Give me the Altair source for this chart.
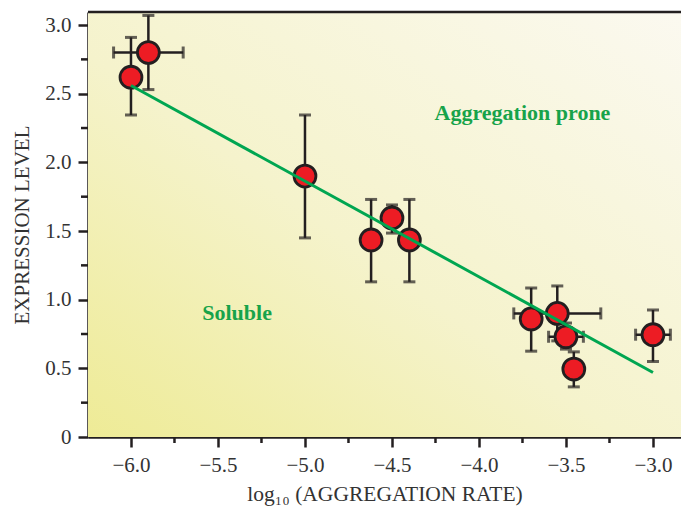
import altair as alt
import pandas as pd

# ---- data ----
log_rate = [-6.0, -5.9, -5.0, -4.62, -4.5, -4.4, -3.7, -3.55, -3.5, -3.455, -3.0]
expr_level = [2.62, 2.80, 1.90, 1.435, 1.595, 1.435, 0.86, 0.90, 0.73, 0.495, 0.745]
y_low = [2.345, 2.53, 1.45, 1.13, 1.485, 1.13, 0.625, 0.70, 0.64, 0.365, 0.55]
y_high = [2.91, 3.07, 2.345, 1.73, 1.69, 1.73, 1.085, 1.10, 0.83, 0.62, 0.925]
x_low = [-6.0, -6.10, -5.0, -4.62, -4.5, -4.4, -3.7, -3.80, -3.60, -3.455, -3.10]
x_high = [-6.0, -5.70, -5.0, -4.62, -4.5, -4.4, -3.7, -3.30, -3.40, -3.455, -2.90]

fit_x = [-6.0, -3.0]
fit_y = [2.56, 0.47]

x_ticks = [-6.0, -5.5, -5.0, -4.5, -4.0, -3.5, -3.0]
x_minor = [-5.75, -5.25, -4.75, -4.25, -3.75, -3.25]
y_ticks = [0, 0.5, 1.0, 1.5, 2.0, 2.5, 3.0]
y_minor = [0.25, 0.75, 1.25, 1.75, 2.25, 2.75]

labels = ["Aggregation prone", "Soluble"]
label_x = [-3.75, -5.39]
label_y = [2.36, 0.90]

X_TITLE = "log₁₀ (AGGREGATION RATE)"
Y_TITLE = "EXPRESSION LEVEL"

W, H = 593, 425
X_DOM = [-6.247, -2.839]
Y_DOM = [0, 3.095]
INK = "#231f20"
SERIF = "Liberation Serif"

df = pd.DataFrame({"x": log_rate, "y": expr_level, "ylo": y_low, "yhi": y_high,
                   "xlo": x_low, "xhi": x_high})
df["has_xerr"] = df["xlo"] != df["xhi"]
vcaps = pd.concat([df[["x"]].assign(y=df["ylo"]), df[["x"]].assign(y=df["yhi"])])
hcaps_src = df[df["has_xerr"]]
hcaps = pd.concat([hcaps_src[["y"]].assign(x=hcaps_src["xlo"]),
                   hcaps_src[["y"]].assign(x=hcaps_src["xhi"])])
fit = pd.DataFrame({"x": fit_x, "y": fit_y})
txt = pd.DataFrame({"label": labels, "x": label_x, "y": label_y})
one = pd.DataFrame({"a": [0]})

xs = alt.Scale(domain=X_DOM, nice=False, zero=False)
ys = alt.Scale(domain=Y_DOM, nice=False, zero=False)


def X(field, **kw):
    return alt.X(field, scale=xs, title=X_TITLE, **kw)


def Y(field, **kw):
    return alt.Y(field, scale=ys, title=Y_TITLE, **kw)


gradient = alt.LinearGradient(
    gradient="linear", x1=0, y1=1, x2=1, y2=0,
    stops=[alt.GradientStop(offset=0, color="#eeeb96"),
           alt.GradientStop(offset=0.45, color="#f5f3cc"),
           alt.GradientStop(offset=1, color="#fbf9f0")])

bg = alt.Chart(one).mark_rect(fill=gradient).encode(
    x=alt.value(0), x2=alt.value("width"), y=alt.value(0), y2=alt.value("height"))

top_border = alt.Chart(one).mark_rule(color=INK, strokeWidth=2.5).encode(
    x=alt.value(0), x2=alt.value("width"), y=alt.value(0))

xminor = alt.Chart(pd.DataFrame({"v": x_minor})).mark_rule(
    color=INK, strokeWidth=2.5, clip=False).encode(
    x=X("v:Q"), y=alt.value(H), y2=alt.value(H + 6))
yminor = alt.Chart(pd.DataFrame({"v": y_minor})).mark_rule(
    color=INK, strokeWidth=2.5, clip=False).encode(
    y=Y("v:Q"), x=alt.value(-7), x2=alt.value(0))

vbars = alt.Chart(df).mark_rule(color=INK, strokeWidth=2.5).encode(
    x=X("x:Q"), y=Y("ylo:Q"), y2="yhi:Q")
hbars = alt.Chart(df).transform_filter("datum.has_xerr").mark_rule(
    color=INK, strokeWidth=2.5).encode(
    y=Y("y:Q"), x=X("xlo:Q"), x2="xhi:Q")
vcap = alt.Chart(vcaps).mark_tick(color=INK, orient="horizontal", size=12,
                                  thickness=3).encode(x=X("x:Q"), y=Y("y:Q"))
hcap = alt.Chart(hcaps).mark_tick(color=INK, orient="vertical", size=12,
                                  thickness=3).encode(x=X("x:Q"), y=Y("y:Q"))

points = alt.Chart(df).mark_point(
    shape="circle", filled=True, fill="#ed1c24", stroke=INK, strokeWidth=2.8,
    size=480, opacity=1).encode(
    x=X("x:Q", axis=alt.Axis(values=x_ticks, format=".1f", titleY=63,
                             titleBaseline="alphabetic", titleFontSize=21.5)),
    y=Y("y:Q", axis=alt.Axis(values=y_ticks,
                             labelExpr="datum.value == 0 ? '0' : format(datum.value, '.1f')",
                             titleX=-60, titleY=H / 2, titleBaseline="alphabetic",
                             titleFontSize=21)))

line = alt.Chart(fit).mark_line(color="#00a651", strokeWidth=3).encode(
    x=X("x:Q"), y=Y("y:Q"))

text = alt.Chart(txt).mark_text(font=SERIF, fontSize=22, fontWeight="bold",
                                color="#17a34a").encode(
    x=X("x:Q"), y=Y("y:Q"), text="label:N")

chart = alt.layer(bg, xminor, yminor, top_border, vbars, hbars, vcap, hcap,
                  points, line, text).properties(
    width=W, height=H,
    autosize=alt.AutoSizeParams(type="none"),
    padding={"left": 80, "top": 4, "right": 0, "bottom": 70},
).configure_view(stroke=None).configure_axis(
    grid=False, domainColor=INK, domainWidth=2.5, tickColor=INK, tickWidth=2.5,
    tickSize=10, labelFont=SERIF, labelFontSize=21, labelColor="#333333",
    labelPadding=7, titleFont=SERIF, titleFontWeight="normal", titleColor="#333333",
)

chart.save("out.html", embed_options={"renderer": "svg", "actions": False})
